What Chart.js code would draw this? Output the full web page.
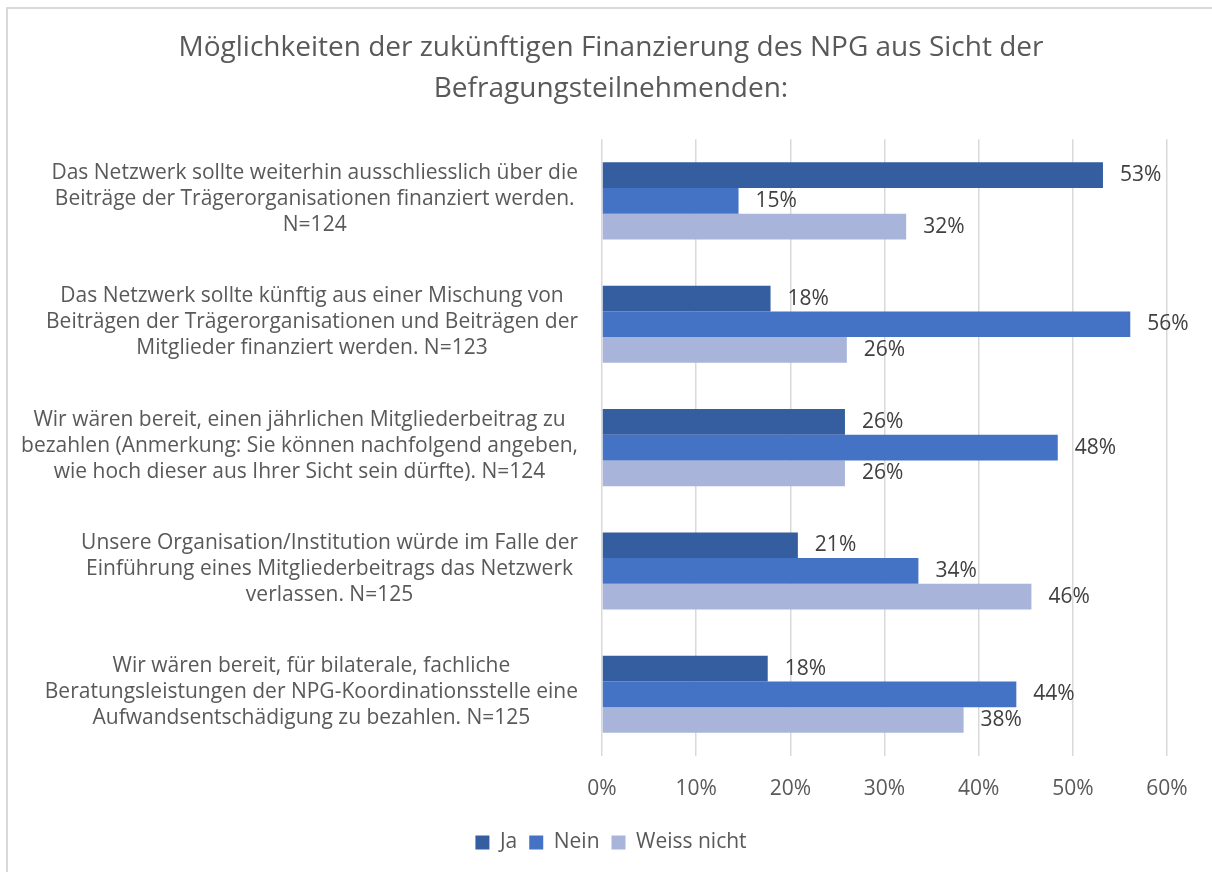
<!DOCTYPE html>
<html>
<head>
<meta charset="utf-8">
<script src="https://cdn.jsdelivr.net/npm/chart.js@4"></script>
<style>
  html, body { margin: 0; padding: 0; background: #ffffff; overflow: hidden; }
  #frame { position: absolute; left: 6px; top: 7px; width: 1300px; height: 1000px; border-left: 2px solid #D9D9D9; border-top: 2px solid #D9D9D9; }
  #wrap { position: absolute; left: 0; top: 0; width: 1212px; height: 872px; }
</style>
</head>
<body>
<div id="frame"></div>
<div id="wrap"><canvas id="c" width="1212" height="872"></canvas></div>
<script>
const titleLines = [
  "Möglichkeiten der zukünftigen Finanzierung des NPG aus Sicht der",
  "Befragungsteilnehmenden:"
];
const categories = [
  ["Das Netzwerk sollte weiterhin ausschliesslich über die", "Beiträge der Trägerorganisationen finanziert werden.", "N=124"],
  ["Das Netzwerk sollte künftig aus einer Mischung von", "Beiträgen der Trägerorganisationen und Beiträgen der", "Mitglieder finanziert werden. N=123"],
  ["Wir wären bereit, einen jährlichen Mitgliederbeitrag zu", "bezahlen (Anmerkung: Sie können nachfolgend angeben,", "wie hoch dieser aus Ihrer Sicht sein dürfte). N=124"],
  ["Unsere Organisation/Institution würde im Falle der", "Einführung eines Mitgliederbeitrags das Netzwerk", "verlassen. N=125"],
  ["Wir wären bereit, für bilaterale, fachliche", "Beratungsleistungen der NPG-Koordinationsstelle eine", "Aufwandsentschädigung zu bezahlen. N=125"]
];
const seriesNames = ["Ja", "Nein", "Weiss nicht"];
const jaValues = [53.2, 17.9, 25.8, 20.8, 17.6];
const neinValues = [14.5, 56.1, 48.4, 33.6, 44.0];
const weissValues = [32.3, 26.0, 25.8, 45.6, 38.4];
const xTickValues = [0, 10, 20, 30, 40, 50, 60];

const FONT = "'Open Sans', 'Noto Sans', sans-serif";
const colors = ["#355EA0", "#4472C4", "#A9B4DA"];

const categoryLabelPlugin = {
  id: 'categoryLabels',
  afterDraw(chart) {
    const ctx = chart.ctx;
    const y = chart.scales.y;
    const lh = 26;
    const rightEdge = chart.chartArea.left - 24;
    ctx.save();
    ctx.font = "21px " + FONT;
    ctx.fillStyle = "#595959";
    ctx.textAlign = "center";
    ctx.textBaseline = "middle";
    categories.forEach((lines, i) => {
      const cy = y.getPixelForValue(i) - 2;
      const w = Math.max(...lines.map(l => ctx.measureText(l).width));
      const cx = rightEdge - w / 2;
      const top = cy - (lines.length - 1) * lh / 2;
      lines.forEach((l, j) => ctx.fillText(l, cx, top + j * lh));
    });
    ctx.restore();
  }
};

const valueLabelPlugin = {
  id: 'valueLabels',
  afterDatasetsDraw(chart) {
    const ctx = chart.ctx;
    ctx.save();
    ctx.font = "21px " + FONT;
    ctx.fillStyle = "#404040";
    ctx.textAlign = "left";
    ctx.textBaseline = "middle";
    chart.data.datasets.forEach((ds, di) => {
      const meta = chart.getDatasetMeta(di);
      meta.data.forEach((el, i) => {
        ctx.fillText(Math.round(ds.data[i]) + "%", el.x + 17, el.y);
      });
    });
    ctx.restore();
  }
};

new Chart(document.getElementById('c'), {
  type: 'bar',
  data: {
    labels: categories,
    datasets: [
      { label: seriesNames[0], data: jaValues, backgroundColor: colors[0] },
      { label: seriesNames[1], data: neinValues, backgroundColor: colors[1] },
      { label: seriesNames[2], data: weissValues, backgroundColor: colors[2] }
    ]
  },
  options: {
    indexAxis: 'y',
    responsive: false,
    animation: false,
    datasets: { bar: { barPercentage: 1.0, categoryPercentage: 0.625 } },
    layout: { padding: { left: 55, right: 45, top: 0, bottom: 9 } },
    scales: {
      x: {
        min: 0, max: 60,
        afterBuildTicks(scale) { scale.ticks = xTickValues.map(v => ({ value: v })); },
        ticks: { callback: v => v + "%", color: "#595959", font: { size: 21, family: FONT }, padding: 20 },
        grid: { color: "#D9D9D9", lineWidth: 1.5, drawTicks: false },
        border: { display: false },
        afterFit(scale) { scale.height = 64; }
      },
      y: {
        ticks: { display: false },
        grid: { display: false },
        border: { display: false },
        afterFit(scale) { scale.width = 547; }
      }
    },
    plugins: {
      title: {
        display: true,
        text: titleLines,
        color: "#595959",
        font: { size: 28, family: FONT, weight: 'normal', lineHeight: 1.45 },
        padding: { top: 28, bottom: 30 }
      },
      legend: {
        position: 'bottom',
        labels: { color: "#595959", font: { size: 21, family: FONT }, boxWidth: 14, boxHeight: 14, padding: 12 }
      },
      tooltip: { enabled: false }
    }
  },
  plugins: [categoryLabelPlugin, valueLabelPlugin]
});
</script>
</body>
</html>
